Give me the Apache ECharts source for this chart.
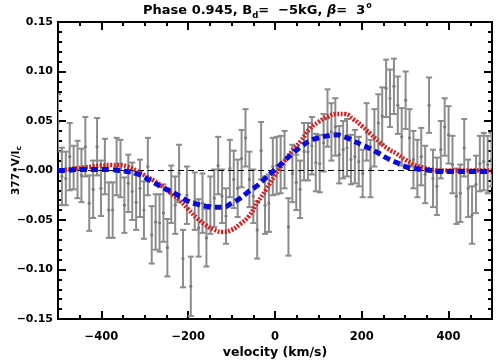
<!DOCTYPE html>
<html>
<head>
<meta charset="utf-8">
<script src="https://cdn.jsdelivr.net/npm/echarts@6/dist/echarts.min.js"></script>
<style>
  html, body { margin: 0; padding: 0; background: #fff; }
  #chart { width: 504px; height: 360px; }
</style>
</head>
<body>
<div id="chart"></div>
<script>
  // observed Stokes V points (velocity in km/s)
  var velocity = [-500, -491, -482, -473, -464, -455, -446, -437, -428, -419, -410, -401, -392, -383, -374, -365,
    -356, -347, -338, -329, -320, -311, -302, -293, -284, -275, -266, -257, -248, -239, -230, -221,
    -212, -203, -194, -185, -176, -167, -158, -149, -140, -131, -122, -113, -104, -95, -86, -77,
    -68, -59, -50, -41, -32, -23, -14, -5, 4, 13, 22, 31, 40, 49, 58, 67,
    76, 85, 94, 103, 112, 121, 130, 139, 148, 157, 166, 175, 184, 193, 202, 211,
    220, 229, 238, 247, 256, 265, 274, 283, 292, 301, 310, 319, 328, 337, 346, 355,
    364, 373, 382, 391, 400, 409, 418, 427, 436, 445, 454, 463, 472, 481, 490, 499];
  var stokesV = [0.048, -0.006, -0.008, 0.014, 0.003, 0.001, -0.005, 0.024, -0.033, -0.019, 0.024, -0.018, 0.004, -0.040, -0.040, 0.004,
    0.002, -0.035, -0.013, -0.021, -0.032, -0.018, -0.040, 0.004, -0.065, -0.052, -0.053, -0.043, -0.078, -0.024, -0.035, -0.003,
    -0.089, -0.025, -0.117, -0.031, -0.058, -0.033, -0.068, -0.035, -0.028, 0.005, -0.026, -0.046, 0.002, -0.009, -0.018, 0.012,
    0.033, -0.009, -0.026, -0.060, 0.020, -0.035, -0.033, 0.004, 0.005, 0.006, 0.011, -0.057, -0.003, -0.012, -0.019, 0.019,
    0.019, 0.025, 0.008, 0.007, 0.028, 0.053, 0.039, 0.044, 0.016, 0.021, 0.023, 0.011, 0.014, 0.009, -0.003, 0.039,
    0.002, 0.033, 0.048, 0.055, 0.083, 0.073, 0.085, 0.066, 0.034, 0.071, 0.033, 0.011, 0.002, 0.014, -0.004, 0.066,
    -0.008, -0.016, 0.021, 0.044, 0.036, 0.006, -0.026, -0.023, 0.023, -0.018, -0.045, -0.014, 0.007, 0.009, 0.006, 0.011];
  var stokesErr = [0.029, 0.029, 0.027, 0.034, 0.022, 0.029, 0.027, 0.030, 0.028, 0.029, 0.029, 0.028, 0.028, 0.028, 0.028, 0.029,
    0.029, 0.028, 0.029, 0.029, 0.028, 0.029, 0.029, 0.029, 0.029, 0.028, 0.029, 0.029, 0.029, 0.029, 0.029, 0.029,
    0.029, 0.029, 0.030, 0.029, 0.029, 0.030, 0.029, 0.029, 0.029, 0.029, 0.027, 0.028, 0.029, 0.029, 0.029, 0.029,
    0.029, 0.028, 0.027, 0.029, 0.029, 0.029, 0.029, 0.029, 0.029, 0.029, 0.029, 0.029, 0.029, 0.028, 0.029, 0.029,
    0.029, 0.029, 0.029, 0.029, 0.029, 0.029, 0.029, 0.029, 0.029, 0.029, 0.029, 0.025, 0.027, 0.025, 0.024, 0.029,
    0.029, 0.029, 0.029, 0.029, 0.029, 0.029, 0.028, 0.029, 0.029, 0.029, 0.029, 0.029, 0.029, 0.029, 0.029, 0.028,
    0.029, 0.029, 0.029, 0.029, 0.029, 0.029, 0.028, 0.029, 0.029, 0.029, 0.029, 0.029, 0.028, 0.029, 0.029, 0.027];

  // model curves
  var modelVel = [-500, -480, -460, -440, -420, -400, -380, -360, -340, -320, -300, -280, -260, -240, -220, -200, -180,
    -160, -140, -120, -100, -80, -60, -40, -20, 0, 20, 40, 60, 80, 100, 120, 140, 160, 180, 200, 220, 240,
    260, 280, 300, 320, 340, 360, 380, 400, 420, 440, 460, 480, 500];
  var redModel = [0.000, 0.001, 0.002, 0.003, 0.004, 0.005, 0.0055, 0.0055, 0.004, 0.000, -0.005, -0.010, -0.016, -0.023, -0.030, -0.039, -0.048,
    -0.055, -0.060, -0.062, -0.060, -0.054, -0.046, -0.032, -0.019, -0.005, 0.008, 0.020, 0.030, 0.042, 0.049, 0.054, 0.057, 0.057, 0.052, 0.045, 0.037, 0.029,
    0.022, 0.017, 0.011, 0.006, 0.003, 0.001, 0.000, 0.000, 0.000, 0.000, 0.000, 0.000, 0.000];
  var blueModel = [0.000, 0.000, 0.001, 0.001, 0.001, 0.001, 0.001, 0.000, -0.001, -0.003, -0.007, -0.012, -0.017, -0.021, -0.026, -0.031, -0.034,
    -0.036, -0.037, -0.037, -0.033, -0.028, -0.021, -0.015, -0.007, 0.001, 0.009, 0.017, 0.024, 0.030, 0.033, 0.035, 0.036, 0.034, 0.030, 0.026, 0.022, 0.017,
    0.012, 0.008, 0.004, 0.002, 0.001, 0.000, -0.001, -0.001, -0.001, -0.001, -0.001, -0.001, -0.001];

  // ticks
  var xMajorTicks = [-400, -200, 0, 200, 400];
  var xMinorTicks = [-450, -350, -300, -250, -150, -100, -50, 50, 100, 150, 250, 300, 350, 450];
  var yMajorTicks = [-0.15, -0.10, -0.05, 0, 0.05, 0.10, 0.15];
  var yTickLabels = ['\u22120.15', '\u22120.10', '\u22120.05', '\u22120.00', '0.05', '0.10', '0.15'];
  var yMinorTicks = [-0.14, -0.13, -0.12, -0.11, -0.09, -0.08, -0.07, -0.06, -0.04, -0.03, -0.02, -0.01,
    0.01, 0.02, 0.03, 0.04, 0.06, 0.07, 0.08, 0.09, 0.11, 0.12, 0.13, 0.14];

  var FONT = 'DejaVu Sans';

  function zip(a, b) {
    var out = [];
    for (var i = 0; i < a.length; i++) out.push([a[i], b[i]]);
    return out;
  }

  var errData = [];
  for (var i = 0; i < velocity.length; i++) errData.push([velocity[i], stokesV[i], stokesErr[i]]);

  function xAxisCfg(pos, ticks, len, labels) {
    return {
      type: 'value', min: -500, max: 500, position: pos,
      axisLine: { show: true, onZero: false, lineStyle: { color: '#000', width: 2 } },
      axisTick: { show: true, inside: true, length: len, customValues: ticks, lineStyle: { color: '#000', width: 2 } },
      axisLabel: {
        show: labels, customValues: xMajorTicks, margin: 12,
        color: '#000', fontFamily: FONT, fontWeight: 'bold', fontSize: 11.5,
        formatter: function (v) { return v < 0 ? '\u2212' + Math.abs(v) : '' + v; }
      },
      splitLine: { show: false },
      name: labels ? 'velocity (km/s)' : '', nameLocation: 'middle', nameGap: 27, nameMoveOverlap: false,
      nameTextStyle: { color: '#000', fontFamily: FONT, fontWeight: 'bold', fontSize: 12.5 }
    };
  }

  function yAxisCfg(pos, ticks, len, labels) {
    return {
      type: 'value', min: -0.15, max: 0.15, position: pos,
      axisLine: { show: true, onZero: false, lineStyle: { color: '#000', width: 2 } },
      axisTick: { show: true, inside: true, length: len, customValues: ticks, lineStyle: { color: '#000', width: 2 } },
      axisLabel: {
        show: labels, customValues: yMajorTicks, margin: 5,
        color: '#000', fontFamily: FONT, fontWeight: 'bold', fontSize: 11,
        formatter: function (v) {
          for (var k = 0; k < yMajorTicks.length; k++) {
            if (Math.abs(yMajorTicks[k] - v) < 1e-6) return yTickLabels[k];
          }
          return '';
        }
      },
      splitLine: { show: false },
      name: labels ? '{a|377\u2022V/I}{s|c}' : '', nameLocation: 'middle', nameGap: 35, nameMoveOverlap: false,
      nameTextStyle: {
        rich: {
          a: { color: '#000', fontFamily: FONT, fontWeight: 'bold', fontSize: 10.5 },
          s: { color: '#000', fontFamily: FONT, fontWeight: 'bold', fontSize: 7.5, verticalAlign: 'bottom', padding: [5, 0, 0, 0] }
        }
      }
    };
  }

  var chart = echarts.init(document.getElementById('chart'));

  var option = {
    animation: false,
    backgroundColor: '#fff',
    title: {
      text: '{a|Phase 0.945, B}{s|d}{a|=  \u22125kG, }{b|\u03b2}{a|=  3}{o|o}',
      left: 143, top: 2, padding: 0,
      textStyle: {
        rich: {
          a: { color: '#000', fontFamily: FONT, fontWeight: 'bold', fontSize: 13, lineHeight: 18 },
          s: { color: '#000', fontFamily: FONT, fontWeight: 'bold', fontSize: 8.5, verticalAlign: 'bottom', padding: [8, 0, 0, 0] },
          b: { color: '#000', fontFamily: FONT, fontWeight: 'bold', fontStyle: 'italic', fontSize: 13, lineHeight: 18 },
          o: { color: '#000', fontFamily: FONT, fontWeight: 'bold', fontSize: 8, verticalAlign: 'top', padding: [0, 0, 8, 1] }
        }
      }
    },
    grid: { left: 58, right: 12, top: 22, bottom: 41, containLabel: false, outerBoundsMode: 'none' },
    xAxis: [
      xAxisCfg('bottom', xMajorTicks, 8, true),
      xAxisCfg('bottom', xMinorTicks, 4, false),
      xAxisCfg('top', xMajorTicks, 8, false),
      xAxisCfg('top', xMinorTicks, 4, false)
    ],
    yAxis: [
      yAxisCfg('left', yMajorTicks, 8, true),
      yAxisCfg('left', yMinorTicks, 4, false),
      yAxisCfg('right', yMajorTicks, 8, false),
      yAxisCfg('right', yMinorTicks, 4, false)
    ],
    series: [
      {
        name: 'observed',
        type: 'custom',
        clip: true,
        data: errData,
        z: 2,
        renderItem: function (params, api) {
          var x = api.value(0), y = api.value(1), e = api.value(2);
          var p = api.coord([x, y]);
          var t = api.coord([x, y + e]);
          var b = api.coord([x, y - e]);
          var st = { stroke: '#8c8c8c', lineWidth: 2 };
          return {
            type: 'group',
            children: [
              { type: 'line', shape: { x1: p[0], y1: t[1], x2: p[0], y2: b[1] }, style: st },
              { type: 'line', shape: { x1: p[0] - 3, y1: t[1], x2: p[0] + 3, y2: t[1] }, style: st },
              { type: 'line', shape: { x1: p[0] - 3, y1: b[1], x2: p[0] + 3, y2: b[1] }, style: st },
              { type: 'circle', shape: { cx: p[0], cy: p[1], r: 1.6 }, style: { fill: '#7a7a7a' } }
            ]
          };
        }
      },
      {
        name: 'zero',
        type: 'line',
        data: [[-500, 0], [500, 0]],
        symbol: 'none',
        z: 3,
        lineStyle: { color: '#000', width: 1, type: [6, 4] }
      },
      {
        name: 'model red',
        type: 'line',
        data: zip(modelVel, redModel),
        symbol: 'none',
        smooth: true,
        z: 4,
        lineStyle: { color: '#d81e1e', width: 4.5, type: [2, 1.5] }
      },
      {
        name: 'model blue',
        type: 'line',
        data: zip(modelVel, blueModel),
        symbol: 'none',
        smooth: true,
        z: 5,
        lineStyle: { color: '#0a0adc', width: 5, type: [7, 4] }
      }
    ]
  };

  chart.setOption(option);
</script>
</body>
</html>
